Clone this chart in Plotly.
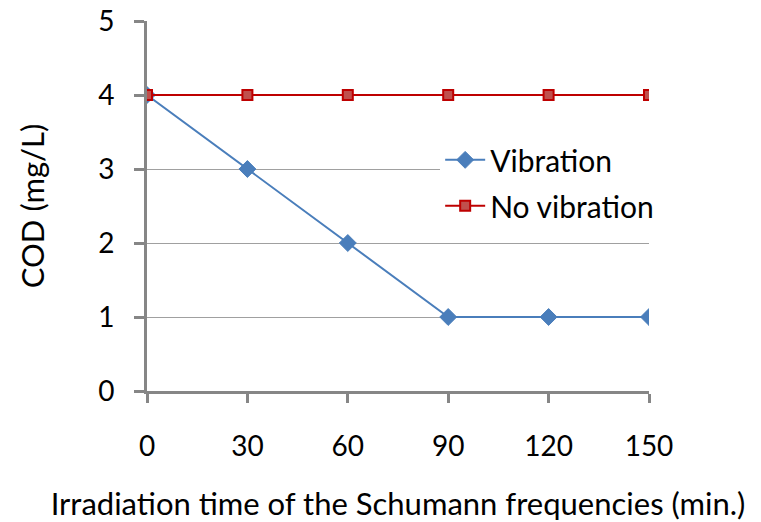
# COD vs irradiation time, line chart
import plotly.graph_objects as go

time_min = [0, 30, 60, 90, 120, 150]
cod_vibration = [4, 3, 2, 1, 1, 1]
cod_no_vibration = [4, 4, 4, 4, 4, 4]
cod_ticks = [0, 1, 2, 3, 4, 5]

font = "Lato, 'Open Sans', sans-serif"
axis_grey = "#868686"

fig = go.Figure()
fig.add_trace(go.Scatter(
    x=time_min, y=cod_vibration, name="Vibration", mode="lines+markers",
    legendgroup="v",
    line=dict(color="#4a7ebb", width=2),
    marker=dict(symbol="diamond", size=13, color="#4a7ebb",
                line=dict(color="#4a7ebb", width=1))))
fig.add_trace(go.Scatter(
    x=time_min, y=cod_no_vibration, name="No vibration", mode="lines+markers",
    legendgroup="nv",
    line=dict(color="#be0000", width=2),
    marker=dict(symbol="square", size=10, color="#c0504d",
                line=dict(color="#be0000", width=2))))

fig.update_layout(
    width=761, height=522,
    margin=dict(l=147, r=112, t=21, b=131),
    paper_bgcolor="white", plot_bgcolor="white",
    font=dict(family=font, size=28, color="black"),
    legend=dict(x=0.584, y=0.695, xanchor="left", yanchor="top",
                bgcolor="white", font=dict(size=30), itemwidth=40,
                tracegroupgap=4),
)
fig.update_xaxes(
    range=[0, 150], tickvals=time_min, showgrid=False, zeroline=False,
    showline=True, linecolor=axis_grey, linewidth=3, automargin=False,
    ticks="outside", ticklen=9, tickwidth=3, tickcolor=axis_grey,
    ticklabelstandoff=19, tickfont=dict(size=28), ticklabeloverflow="allow",
    title=dict(text="Irradiation time of the Schumann frequencies (min.)",
               standoff=44, font=dict(size=31)))
fig.update_yaxes(
    range=[0, 5.0001], tickvals=cod_ticks, showgrid=True, gridcolor="#a0a0a0",
    gridwidth=1, zeroline=False, showline=True, linecolor=axis_grey,
    linewidth=3, automargin=False, ticklabeloverflow="allow",
    ticks="outside", ticklen=10, tickwidth=3, tickcolor=axis_grey,
    ticklabelstandoff=14, tickfont=dict(size=28),
    title=dict(text="COD (mg/L)", standoff=45, font=dict(size=31)))

# drop the default 8px body margin so the figure fills the window exactly
fig.write_html("out.html", config={"displayModeBar": False},
               post_script="document.body.style.margin='0';")
